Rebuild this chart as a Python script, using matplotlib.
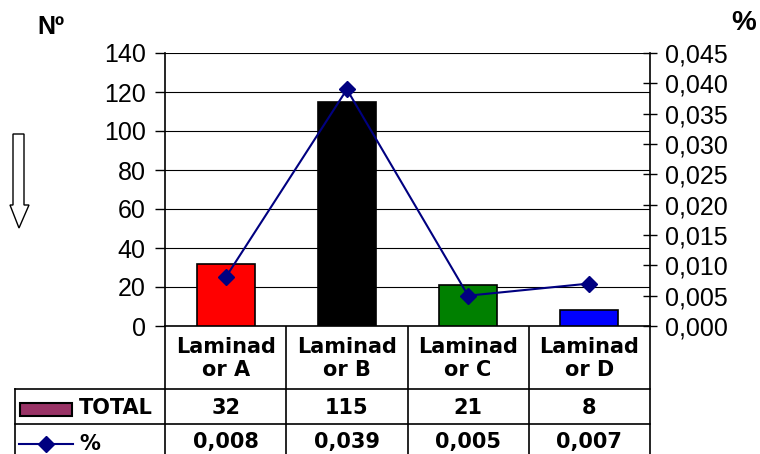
import matplotlib
matplotlib.use("Agg")
import matplotlib.pyplot as plt
from matplotlib.patches import Polygon, Rectangle
from matplotlib.lines import Line2D

# -------------------------------
# DATA
# -------------------------------
categories = ["Laminad\nor A", "Laminad\nor B", "Laminad\nor C", "Laminad\nor D"]
totals = [32, 115, 21, 8]
pct = [0.008, 0.039, 0.005, 0.007]
pct_labels = ["0,008", "0,039", "0,005", "0,007"]
bar_colors = ["#FF0000", "#000000", "#008000", "#0000FF"]
left_ticks = list(range(0, 141, 20))
right_ticks = [i * 0.005 for i in range(10)]

# -------------------------------
# LAYOUT (pixels)
# -------------------------------
W, H = 760, 454
L, R, T, B = 165, 650, 53, 326
row1, row2 = 389, 424
tab_left = 15

plt.rcParams["font.family"] = ["Liberation Sans", "DejaVu Sans"]

fig = plt.figure(figsize=(W / 100, H / 100), dpi=100)
ax = fig.add_axes([L / W, 1 - B / H, (R - L) / W, (B - T) / H])

x = list(range(len(categories)))
ax.bar(x, totals, width=0.48, color=bar_colors, edgecolor="black", linewidth=1.2, zorder=3)
ax.set_xlim(-0.5, len(categories) - 0.5)
ax.set_ylim(0, 140)
ax.set_yticks(left_ticks)
ax.set_xticks([])
ax.yaxis.grid(True, color="black", linewidth=0.8)
ax.set_axisbelow(True)
ax.tick_params(axis="y", labelsize=18, length=7, width=1, pad=7)
for s in ["top", "right"]:
    ax.spines[s].set_visible(False)
ax.spines["left"].set_linewidth(1.2)
ax.spines["bottom"].set_linewidth(1.2)

ax2 = ax.twinx()
ax2.plot(x, pct, color="#000080", marker="D", markersize=8, linewidth=1.5, zorder=4)
ax2.set_ylim(0, 0.045)
ax2.set_yticks(right_ticks)
ax2.set_yticklabels([f"{v:.3f}".replace(".", ",") for v in right_ticks])
ax2.tick_params(axis="y", labelsize=18, length=10, width=1, pad=6, direction="inout")
for s in ["top", "left", "bottom"]:
    ax2.spines[s].set_visible(False)
ax2.spines["right"].set_linewidth(1.2)

# -------------------------------
# DATA TABLE + ANNOTATIONS
# -------------------------------
ov = fig.add_axes([0, 0, 1, 1], zorder=-1)
ov.set_xlim(0, W)
ov.set_ylim(H, 0)
ov.axis("off")

n = len(categories)
cw = (R - L) / n
edges = [L + i * cw for i in range(n + 1)]
centers = [L + (i + 0.5) * cw for i in range(n)]

lk = dict(color="black", linewidth=1.2)
ov.add_line(Line2D([tab_left, R], [row1, row1], **lk))
ov.add_line(Line2D([tab_left, R], [row2, row2], **lk))
ov.add_line(Line2D([tab_left, tab_left], [row1, H], **lk))
for e in edges:
    ov.add_line(Line2D([e, e], [B, H], **lk))

tf = dict(family="DejaVu Sans", fontweight="bold", fontsize=15, ha="center", va="center")
for c, cat, tot, pl in zip(centers, categories, totals, pct_labels):
    ov.text(c, (B + row1) / 2 + 1, cat, linespacing=1.15, **tf)
    ov.text(c, (row1 + row2) / 2 + 1, str(tot), **tf)
    ov.text(c, (row2 + H) / 2 + 3, pl, **tf)

ov.add_patch(Rectangle((20, 403), 52, 13, facecolor="#993366", edgecolor="black", linewidth=1.5))
ov.text(79, (row1 + row2) / 2 + 1, "TOTAL", family="DejaVu Sans", fontweight="bold",
        fontsize=15, ha="left", va="center")
ov.add_line(Line2D([19, 73], [444, 444], color="#000080", linewidth=1.5))
ov.add_line(Line2D([46], [444], color="#000080", marker="D", markersize=8))
ov.text(79, 444, "%", family="DejaVu Sans", fontweight="bold",
        fontsize=15, ha="left", va="center")

arrow = [(13, 134), (24, 134), (24, 205), (29, 205), (19, 228), (10, 205), (13, 205)]
ov.add_patch(Polygon(arrow, closed=True, facecolor="white", edgecolor="black", linewidth=1))

fig.text(37 / W, 1 - 27 / H, "Nº", fontsize=18, fontweight="bold", ha="left", va="center")
fig.text(744 / W, 1 - 23 / H, "%", fontsize=20, fontweight="bold", ha="center", va="center")

fig.savefig("out.png", dpi=100)
